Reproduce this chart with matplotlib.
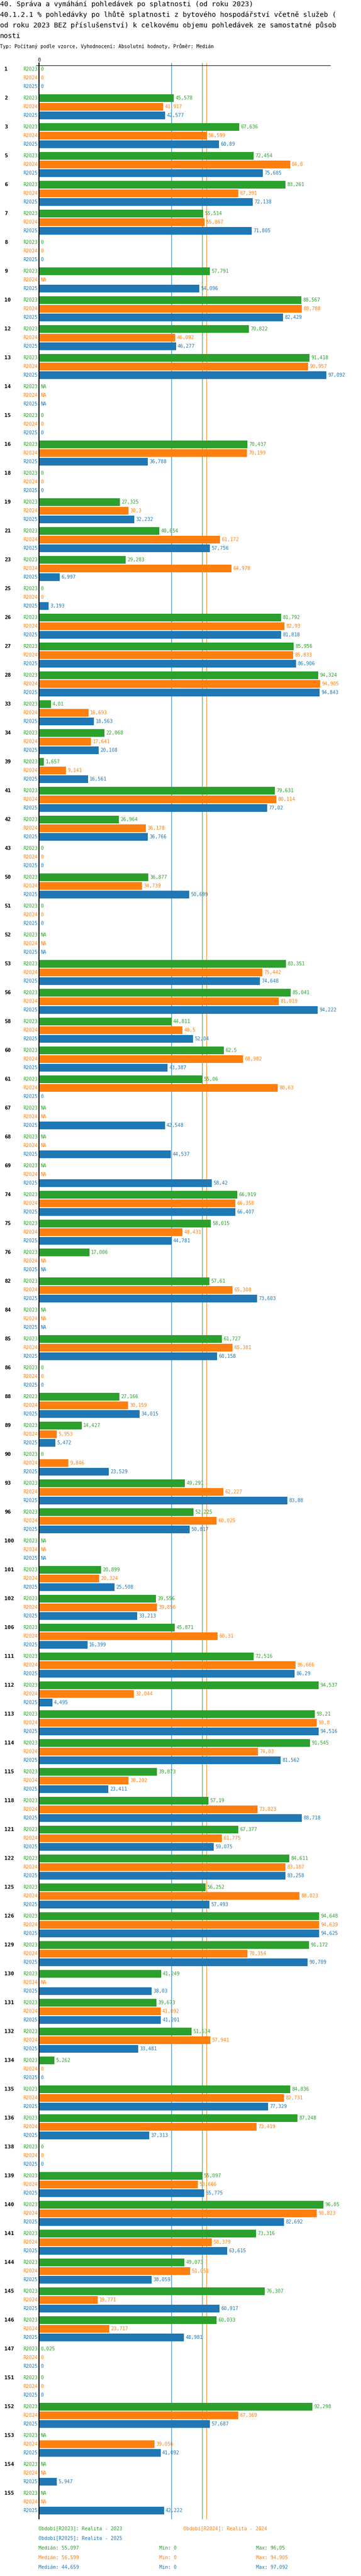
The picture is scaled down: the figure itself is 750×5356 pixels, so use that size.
import matplotlib
matplotlib.use("Agg")
import matplotlib.pyplot as plt
from matplotlib.lines import Line2D

plt.rcParams['font.family'] = ['DejaVu Sans Mono', 'DejaVu Sans']

# ---------------- data ----------------
ids = [1, 2, 3, 5, 6, 7, 8, 9, 10, 12, 13, 14, 15, 16, 18, 19, 21, 23, 25, 26,
       27, 28, 33, 34, 39, 41, 42, 43, 50, 51, 52, 53, 56, 58, 60, 61, 67, 68, 69, 74,
       75, 76, 82, 84, 85, 86, 88, 89, 90, 93, 96, 100, 101, 102, 106, 111, 112, 113, 114, 115,
       118, 121, 122, 125, 126, 129, 130, 131, 132, 134, 135, 136, 138, 139, 140, 141, 144, 145, 146, 147,
       151, 152, 153, 154, 155]

NA = None
r2023 = [0, 45.578, 67.636, 72.454, 83.261, 55.514, 0, 57.791, 88.567, 70.822,
         91.418, NA, 0, 70.437, 0, 27.325, 40.654, 29.283, 0, 81.792,
         85.956, 94.324, 4.01, 22.068, 1.657, 79.631, 26.964, 0, 36.877, 0,
         NA, 83.351, 85.041, 44.811, 62.5, 55.06, NA, NA, NA, 66.919,
         58.015, 17.006, 57.61, NA, 61.727, 0, 27.166, 14.427, 0, 49.291,
         52.225, NA, 20.899, 39.556, 45.871, 72.516, 94.537, 93.21, 91.545, 39.873,
         57.19, 67.377, 84.611, 56.252, 94.648, 91.172, 41.249, 39.673, 51.534, 5.262,
         84.836, 87.248, 0, 55.097, 96.05, 73.316, 49.073, 76.307, 60.033, 0.025,
         0, 92.298, NA, NA, NA]
r2024 = [0, 41.917, 56.599, 84.8, 67.391, 55.867, 0, NA, 88.788, 46.092,
         90.957, NA, 0, 70.199, 0, 30.3, 61.172, 64.978, 0, 82.93,
         85.833, 94.905, 16.693, 17.641, 9.141, 80.114, 36.178, 0, 34.739, 0,
         NA, 75.442, 81.019, 48.5, 68.982, 80.63, NA, NA, NA, 66.358,
         48.431, NA, 65.308, NA, 65.381, 0, 30.159, 5.953, 9.846, 62.227,
         60.025, NA, 20.324, 39.856, 60.31, 86.666, 32.044, 93.8, 74.03, 30.202,
         73.823, 61.775, 83.187, 88.023, 94.639, 70.354, NA, 41.092, 57.941, 0,
         82.731, 73.419, 0, 53.666, 93.823, 58.379, 51.051, 19.771, 23.717, 0,
         0, 67.369, 39.056, NA, NA]
r2025 = [0, 42.577, 60.89, 75.685, 72.138, 71.805, 0, 54.096, 82.429, 46.277,
         97.092, NA, 0, 36.788, 0, 32.232, 57.756, 6.997, 3.193, 81.818,
         86.906, 94.843, 18.563, 20.108, 16.561, 77.02, 36.766, 0, 50.699, 0,
         NA, 74.648, 94.222, 52.04, 43.387, 0, 42.548, 44.537, 58.42, 66.407,
         44.781, NA, 73.603, NA, 60.158, 0, 34.015, 5.472, 23.529, 83.88,
         50.817, NA, 25.508, 33.213, 16.399, 86.29, 4.495, 94.516, 81.562, 23.411,
         88.718, 59.075, 83.258, 57.493, 94.625, 90.789, 38.03, 41.201, 33.481, 0,
         77.329, 37.313, 0, 55.775, 82.692, 63.615, 38.059, 60.917, 48.981, 0,
         0, 57.687, 41.092, 5.947, 42.222]

series_names = ["R2023", "R2024", "R2025"]
series_values = [r2023, r2024, r2025]
colors = ["#2ca02c", "#ff7f0e", "#1f77b4"]
medians = [55.097, 56.599, 44.659]
mins = [0, 0, 0]
maxs = [96.05, 94.905, 97.092]
legend_names = ["Období[R2023]: Realita - 2023", "Období[R2024]: Realita - 2024",
                "Období[R2025]: Realita - 2025"]

title_lines = [
    "40. Správa a vymáhání pohledávek po splatnosti (od roku 2023)",
    "40.1.2.1 % pohledávky po lhůtě splatnosti z bytového hospodářství včetně služeb (",
    "od roku 2023 BEZ příslušenství) k celkovému objemu pohledávek ze samostatné působ",
    "nosti",
]
subtitle = "Typ: Počítaný podle vzorce, Vyhodnocení: Absolutní hodnoty, Průměr: Medián"


def fmt(v):
    if v is None:
        return "NA"
    s = f"{v:.3f}".rstrip('0').rstrip('.')
    return s.replace('.', ',')


# ---------------- layout ----------------
W, H = 750, 5356
fig = plt.figure(figsize=(W / 100, H / 100), dpi=100)


def fx(x):
    return x / W


def fy(y):
    return 1 - y / H


GROUP = 60
STEP = 18
BAR_H = 16
n = len(ids)
ax_left, ax_right = 81, 696
ax_top = 136
ax_bottom = ax_top + n * GROUP

ax = fig.add_axes([fx(ax_left), fy(ax_bottom), (ax_right - ax_left) / W, (ax_bottom - ax_top) / H])
ax.set_xlim(0, 100)
ax.set_ylim(n * GROUP, 0)
ax.axis('off')

# title
for i, t in enumerate(title_lines):
    fig.text(fx(0), fy(9 + 22 * i), t, fontsize=10.35, va='center', ha='left', color='black')
fig.text(fx(0), fy(96), subtitle, fontsize=7.2, va='center', ha='left', color='black')

# tick label 0
ax.text(0, -11, "0", fontsize=7.2, ha='center', va='center', clip_on=False)

# median lines
for m, c in zip(medians, colors):
    ax.add_line(Line2D([m, m], [-5, n * GROUP + 1], color=c, lw=0.75, zorder=1, clip_on=False))

# bars
for j, (vals, c, name) in enumerate(zip(series_values, colors, series_names)):
    ys = [i * GROUP + j * STEP + BAR_H / 2 for i in range(n)]
    widths = [0 if v is None else v for v in vals]
    ax.barh(ys, widths, height=BAR_H, color=c, zorder=2, linewidth=0)
    for y, v in zip(ys, vals):
        ax.annotate(fmt(v), xy=(0 if v is None else v, y), xytext=(2.4, 0),
                    textcoords='offset points', fontsize=7.2, color=c,
                    ha='left', va='center', zorder=3, annotation_clip=False)
        ax.annotate(name, xy=(0, y), xytext=(-2.2, 0), textcoords='offset points',
                    fontsize=7.2, color=c, ha='right', va='center', annotation_clip=False)

# group labels
for i, gid in enumerate(ids):
    ax.annotate(str(gid), xy=(0, i * GROUP + BAR_H / 2), xycoords='data',
                xytext=(fx(9), 0), textcoords=('figure fraction', 'offset points'),
                fontsize=8, fontweight='bold', ha='left', va='center', annotation_clip=False)

# axis lines
ax.add_line(Line2D([-0.98, 98.4], [0, 0], color='black', lw=0.8, zorder=4, clip_on=False))
ax.add_line(Line2D([0, 0], [-5, n * GROUP + 1], color='black', lw=1.5, zorder=4, clip_on=False))

# legend
fig.text(fx(80), fy(5258), legend_names[0], fontsize=7.2, color=colors[0], va='center')
fig.text(fx(381), fy(5258), legend_names[1], fontsize=7.2, color=colors[1], va='center')
fig.text(fx(80), fy(5278), legend_names[2], fontsize=7.2, color=colors[2], va='center')
for k in range(3):
    yy = 5298 + 20 * k
    fig.text(fx(80), fy(yy), "Medián: " + fmt(medians[k]), fontsize=7.2, color=colors[k], va='center')
    fig.text(fx(331), fy(yy), "Min: " + fmt(mins[k]), fontsize=7.2, color=colors[k], va='center')
    fig.text(fx(532), fy(yy), "Max: " + fmt(maxs[k]), fontsize=7.2, color=colors[k], va='center')

fig.savefig("out.png", dpi=100)
